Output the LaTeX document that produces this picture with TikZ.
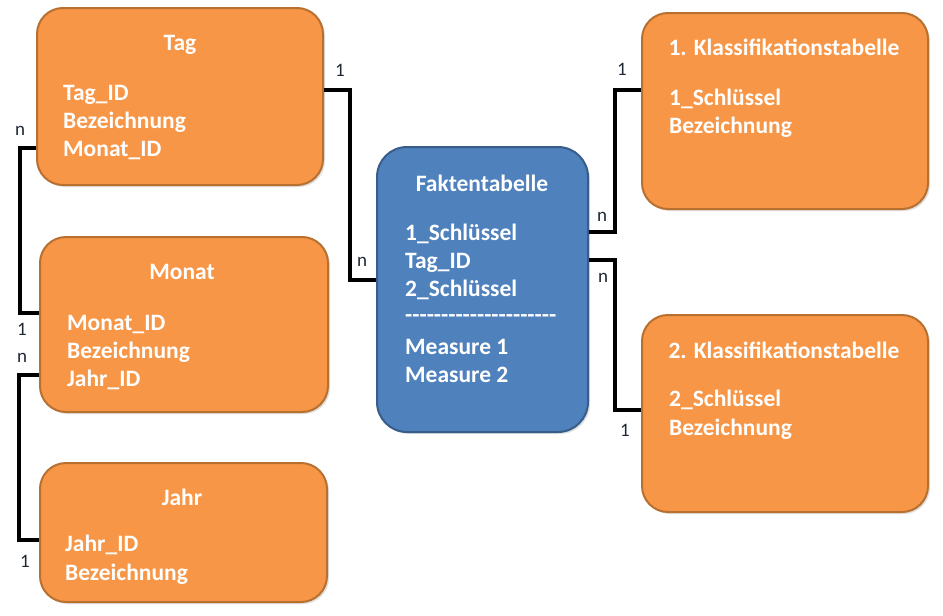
\documentclass[tikz,border=0pt]{standalone}
\usepackage{fontspec}
\setmainfont{Carlito}
\usetikzlibrary{shadows}
\definecolor{boxorange}{HTML}{F79646}
\definecolor{boxorangeline}{HTML}{B7702F}
\definecolor{boxblue}{HTML}{4F81BD}
\definecolor{boxblueline}{HTML}{385D8A}
\definecolor{lblcol}{HTML}{1E2733}
\newcommand{\hy}{-\kern0pt}
\tikzset{
  tbl/.style={draw=boxorangeline, fill=boxorange, line width=2pt, rounded corners=26pt,
    inner sep=0pt, drop shadow={opacity=0.25, shadow xshift=2pt, shadow yshift=-2pt}},
  fakt/.style={draw=boxblueline, fill=boxblue, line width=2pt, rounded corners=30pt,
    inner sep=0pt, drop shadow={opacity=0.25, shadow xshift=2pt, shadow yshift=-2pt}},
  ttl/.style={text=white, font=\bfseries\fontsize{23.5}{28}\selectfont, inner sep=0pt, anchor=center},
  fld/.style={text=white, font=\bfseries\fontsize{23.5}{28}\selectfont, inner sep=0pt, anchor=base west},
  conn/.style={draw=black, line width=3.5pt, line join=miter},
  card/.style={text=lblcol, font=\fontsize{19}{21}\selectfont, inner sep=0pt, anchor=center},
}
\begin{document}
\begin{tikzpicture}[x=1pt,y=-1pt]
\useasboundingbox (0,0) rectangle (943,616);
% boxes
\node[tbl, minimum width=286pt, minimum height=177pt] (tag) at (180,96.5) {};
\node[tbl, minimum width=288pt, minimum height=175pt] (monat) at (184,324.5) {};
\node[tbl, minimum width=287pt, minimum height=139pt] (jahr) at (183.5,532.5) {};
\node[fakt, minimum width=211pt, minimum height=285pt] (fakten) at (482.5,289.5) {};
\node[tbl, minimum width=286pt, minimum height=196pt] (kl1) at (785,111) {};
\node[tbl, minimum width=286pt, minimum height=197pt] (kl2) at (785,413.5) {};
% texts Tag
\node[ttl] (tagT) at (180,45) {Tag};
\node[fld] (tag1) at (63,100) {Tag\_ID};
\node[fld] (tag2) at (63,128) {Bezeichnung};
\node[fld] (tag3) at (63,156) {Monat\_ID};
% Monat
\node[ttl] (monT) at (182,272) {Monat};
\node[fld] (mon1) at (67,330) {Monat\_ID};
\node[fld] (mon2) at (67,358) {Bezeichnung};
\node[fld] (mon3) at (67,386) {Jahr\_ID};
% Jahr
\node[ttl] (jahT) at (182,497) {Jahr};
\node[fld] (jah1) at (65,551) {Jahr\_ID};
\node[fld] (jah2) at (65,580) {Bezeichnung};
% Fakten
\node[ttl] (fakT) at (482,183) {Faktentabelle};
\node[fld] (fak1) at (405,240) {1\_Schlüssel};
\node[fld] (fak2) at (405,268) {Tag\_ID};
\node[fld] (fak3) at (405,296) {2\_Schlüssel};
\node[fld] (fak4) at (405,322) {\hy\hy\hy\hy\hy\hy\hy\hy\hy\hy\hy\hy\hy\hy\hy\hy\hy\hy\hy\hy\hy};
\node[fld] (fak5) at (405,354) {Measure 1};
\node[fld] (fak6) at (405,382) {Measure 2};
% Klass 1
\node[ttl] (k1T) at (784,47) {1. Klassifikationstabelle};
\node[fld] (k11) at (669,105) {1\_Schlüssel};
\node[fld] (k12) at (669,133) {Bezeichnung};
% Klass 2
\node[ttl] (k2T) at (784,350) {2. Klassifikationstabelle};
\node[fld] (k21) at (669,406) {2\_Schlüssel};
\node[fld] (k22) at (669,435) {Bezeichnung};
% connectors
\coordinate (c1) at (350,185);
\coordinate (c2) at (20,230);
\coordinate (c3) at (19,450);
\coordinate (c4) at (615,160);
\coordinate (c5) at (615,330);
\draw[conn] ([yshift=6.5pt]tag.east) -| (c1) |- ([yshift=9.5pt]fakten.west);
\draw[conn] ([yshift=-51.5pt]tag.west) -| (c2) |- ([yshift=11.5pt]monat.west);
\draw[conn] ([yshift=-50.5pt]monat.west) -| (c3) |- ([yshift=-7.5pt]jahr.west);
\draw[conn] ([yshift=57.5pt]fakten.east) -| (c4) |- ([yshift=21pt]kl1.west);
\draw[conn] ([yshift=29.5pt]fakten.east) -| (c5) |- ([yshift=3.5pt]kl2.west);
% cardinalities
\node[card] (l1) at (340,70) {1};
\node[card] (l2) at (362,262) {n};
\node[card] (l3) at (20,131) {n};
\node[card] (l4) at (22,329) {1};
\node[card] (l5) at (22,358) {n};
\node[card] (l6) at (25,561) {1};
\node[card] (l7) at (622,69) {1};
\node[card] (l8) at (602,217) {n};
\node[card] (l9) at (603,278) {n};
\node[card] (l10) at (625,430) {1};
\end{tikzpicture}
\end{document}
